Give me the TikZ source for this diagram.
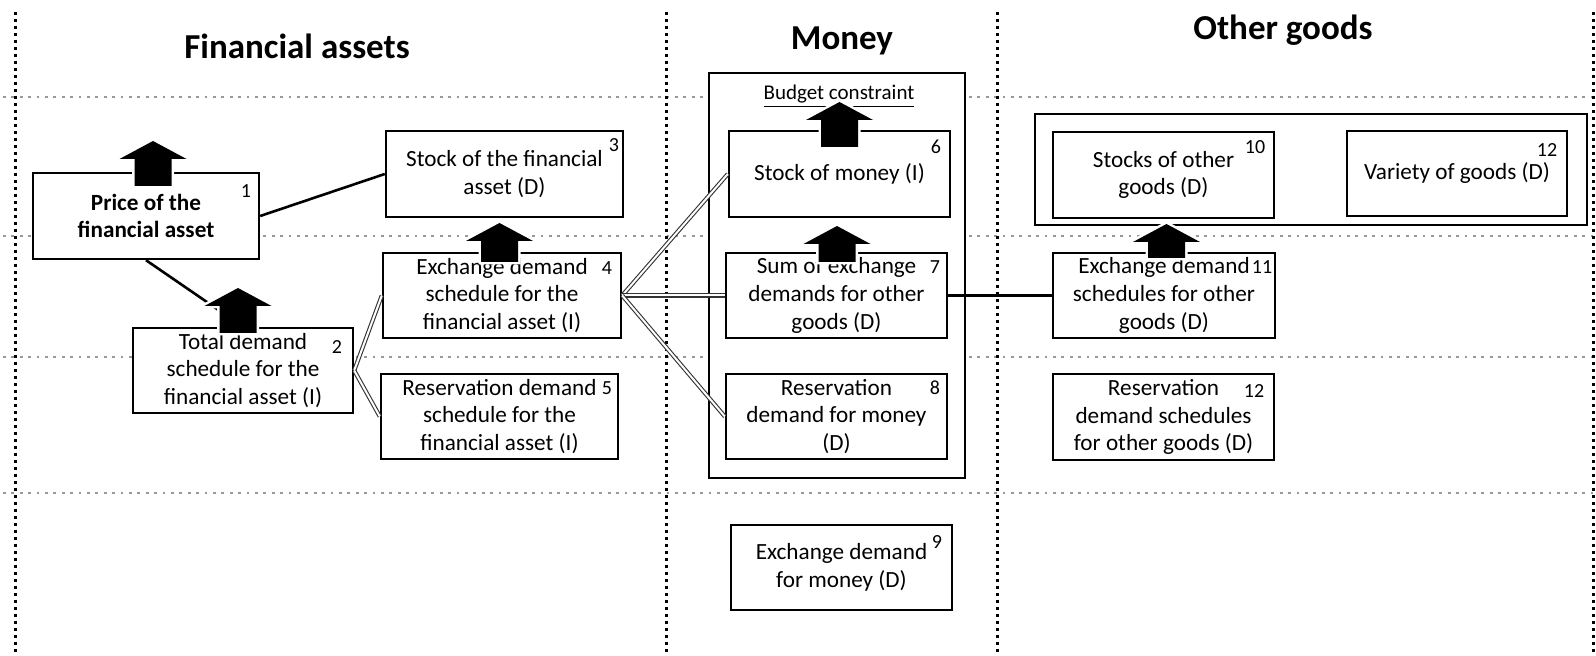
\documentclass[tikz,border=0pt]{standalone}
\usepackage{fontspec}
\setmainfont{Carlito}
\newcommand{\upblk}[3]{%
  \pgfmathsetmacro\blen{#3-#2-18}%
  \path[draw=white,line width=2.5pt,line join=miter] (#1,#2) -- ++(33.5,18) -- ++(-15,0) -- ++(0,\blen) -- ++(-37,0) -- ++(0,-\blen) -- ++(-15,0) -- cycle;
  \path[fill=black] (#1,#2) -- ++(33.5,18) -- ++(-15,0) -- ++(0,\blen) -- ++(-37,0) -- ++(0,-\blen) -- ++(-15,0) -- cycle;}
\begin{document}
\begin{tikzpicture}[x=0.5pt,y=-0.5pt,
  box/.style={draw, line width=1.2pt, fill=white, align=center, inner sep=0pt,
    font=\fontsize{11.6}{13.8}\selectfont},
  frame/.style={draw, line width=1.1pt, fill=white, inner sep=0pt},
  num/.style={inner sep=0pt, font=\fontsize{10}{11}\selectfont},
  head/.style={inner sep=0pt, anchor=base, font=\fontsize{17.5}{20}\selectfont\bfseries},
  vgrid/.style={line width=1.5pt, dash pattern=on 1.5pt off 2pt},
  hgrid/.style={line width=1.3pt, black!40, dash pattern=on 1.4pt off 2.8pt},
  link/.style={line width=1.3pt},
  dlink/.style={double, double distance=1pt, line width=0.55pt, draw=black!80}
]
\fill[white] (0,0) rectangle (1596,656);
\useasboundingbox (0,0) rectangle (1596,656);

% grid
\foreach \yy in {97,236,357,493} \draw[hgrid] (3,\yy) -- (1596,\yy);
\foreach \xx in {15,666,997,1593} \draw[vgrid] (\xx,12) -- (\xx,656);

% headers
\node[head] (h1) at (297,59) {Financial assets};
\node[head] (h2) at (842,50) {Money};
\node[head] (h3) at (1283,40) {Other goods};

% frames
\node[frame, minimum width=128pt, minimum height=202.5pt] (budget) at (837,275.5) {};
\node[frame, minimum width=276pt, minimum height=55.5pt] (group) at (1311,169.5) {};
\node[inner sep=0pt, anchor=base, font=\fontsize{10.5}{12}\selectfont] (bc) at (839,100) {\underline{Budget constraint}};

% boxes
\node[box, minimum width=113pt, minimum height=43pt] (b1) at (146,216) {\textbf{Price of the}\\\textbf{financial asset}};
\node[box, minimum width=110pt, minimum height=42.5pt] (b2) at (243,370.5) {Total demand\\schedule for the\\financial asset (I)};
\node[box, minimum width=118.5pt, minimum height=43pt] (b3) at (504.5,174) {Stock of the financial\\asset (D)};
\node[box, minimum width=119pt, minimum height=42.5pt] (b4) at (502,295.5) {Exchange demand\\schedule for the\\financial asset (I)};
\node[box, minimum width=118.5pt, minimum height=42.5pt] (b5) at (499.5,416.5) {Reservation demand\\schedule for the\\financial asset (I)};
\node[box, minimum width=110.5pt, minimum height=43pt] (b6) at (839.5,174) {Stock of money (I)};
\node[box, minimum width=110.5pt, minimum height=42.5pt] (b7) at (836.5,295.5) {Sum of exchange\\demands for other\\goods (D)};
\node[box, minimum width=110.5pt, minimum height=42.5pt] (b8) at (836.5,416.5) {Reservation\\demand for money\\(D)};
\node[box, minimum width=110.5pt, minimum height=42.5pt] (b9) at (841.5,567.5) {Exchange demand\\for money (D)};
\node[box, minimum width=110.5pt, minimum height=43pt] (b10) at (1163.5,175) {Stocks of other\\goods (D)};
\node[box, minimum width=111pt, minimum height=42.5pt] (b11) at (1164,295.5) {Exchange demand\\schedules for other\\goods (D)};
\node[box, minimum width=110.5pt, minimum height=43pt] (b12) at (1163.5,417) {Reservation\\demand schedules\\for other goods (D)};
\node[box, minimum width=110pt, minimum height=42.5pt] (b13) at (1457,173.5) {Variety of goods (D)};

% connectors
\draw[link] (b1.east) -- (b3.west);
\draw[link] (b1.south) -- (b2.north);
\draw[link] (b7.east) -- (b11.west);
\draw[dlink] (b2.east) -- (b4.west);
\draw[dlink] (b2.east) -- (b5.west);
\draw[dlink] (b4.east) -- (b6.west);
\draw[dlink] (b4.east) -- (b7.west);
\draw[dlink] (b4.east) -- (b8.west);

% numbers
\node[num] (n1) at (246,191) {1};
\node[num] (n2) at (337,347) {2};
\node[num] (n3) at (614,145) {3};
\node[num] (n4) at (607,268) {4};
\node[num] (n5) at (607,388) {5};
\node[num] (n6) at (936,147) {6};
\node[num] (n7) at (935,267) {7};
\node[num] (n8) at (935,388) {8};
\node[num] (n9) at (937,542) {9};
\node[num] (n10) at (1255,147) {10};
\node[num] (n11) at (1262,267) {11};
\node[num] (n12) at (1254,391) {12};
\node[num] (n13) at (1547,150) {12};

% block arrows
\upblk{153}{141}{186}
\upblk{238}{288}{333}
\upblk{499.5}{223}{262}
\upblk{839.5}{102}{147}
\upblk{837}{226}{262}
\upblk{1166.5}{224}{258}
\end{tikzpicture}
\end{document}
